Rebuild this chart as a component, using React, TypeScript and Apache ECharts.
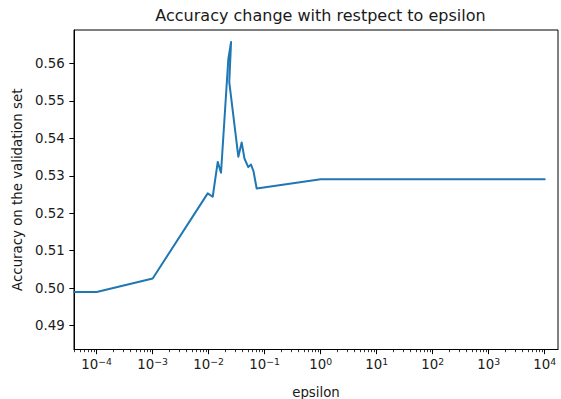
import React, { useEffect, useRef } from "react";
import * as echarts from "echarts";

// Data
const EPSILON = [
  1e-5, 1e-4, 1e-3, 0.0096, 0.0118, 0.0145, 0.0166, 0.0224, 0.0251, 0.0233,
  0.0338, 0.0388, 0.0435, 0.0509, 0.0569, 0.0631, 0.0719, 1, 10, 100, 1000, 10000,
];
const ACCURACY = [
  0.499, 0.499, 0.5026, 0.5253, 0.5244, 0.5337, 0.5308, 0.5611, 0.5657, 0.555,
  0.5351, 0.5389, 0.5346, 0.5323, 0.533, 0.5312, 0.5266, 0.5291, 0.5291, 0.5291,
  0.5291, 0.5291,
];

const X_TICKS = [1e-4, 1e-3, 1e-2, 1e-1, 1, 10, 100, 1000, 10000];
const Y_TICKS = [0.49, 0.5, 0.51, 0.52, 0.53, 0.54, 0.55, 0.56];
const MINOR_MULTIPLES = [2, 3, 4, 5, 6, 7, 8, 9];
const MINOR_DECADES = [1e-5, 1e-4, 1e-3, 1e-2, 1e-1, 1, 10, 100, 1000, 10000];

const X_MIN = Math.pow(10, -4.405);
const X_MAX = Math.pow(10, 4.237);
const Y_MIN = 0.48365;
const Y_MAX = 0.56889;

const FONT = "DejaVu Sans";
const TEXT = "#1a1a1a";

function supLabel(v: number) {
  const e = Math.round(Math.log10(v));
  const s = e < 0 ? "\u2212" + -e : String(e);
  return `{b|10}{s|${s}}`;
}

export default function App() {
  const ref = useRef<HTMLDivElement>(null);
  useEffect(() => {
    if (!ref.current) return;
    const chart = echarts.init(ref.current, undefined, { renderer: "svg" });
    const minor: number[] = [];
    MINOR_DECADES.forEach((d) =>
      MINOR_MULTIPLES.forEach((m) => {
        const v = d * m;
        if (v > X_MIN && v < X_MAX) minor.push(v);
      })
    );
    const lineData = EPSILON.map((e, i) => [e, ACCURACY[i]]);
    chart.setOption({
      animation: false,
      title: {
        text: "Accuracy change with restpect to epsilon",
        left: 315.5,
        top: 2,
        textAlign: "center",
        textStyle: { fontFamily: FONT, fontSize: 16, fontWeight: "normal", color: TEXT },
      },
      grid: {
        left: 74,
        right: 3,
        top: 30,
        bottom: 49.5,
        show: true,
        borderColor: "#000",
        borderWidth: 1,
        outerBoundsMode: "none",
        containLabel: false,
      },
      xAxis: [
        {
          type: "log",
          min: X_MIN,
          max: X_MAX,
          name: "epsilon",
          nameLocation: "middle",
          nameGap: 36,
          nameTextStyle: { fontFamily: FONT, fontSize: 13.33, color: TEXT },
          axisLine: { show: true, lineStyle: { color: "#000", width: 1 } },
          axisTick: {
            show: true,
            length: 4.67,
            lineStyle: { color: "#000", width: 1 },
            customValues: X_TICKS,
          },
          axisLabel: {
            customValues: X_TICKS,
            margin: 7,
            formatter: (v: number) => supLabel(v),
            rich: {
              b: { fontFamily: FONT, fontSize: 13.33, color: TEXT, lineHeight: 16 },
              s: {
                fontFamily: FONT,
                fontSize: 9.3,
                color: TEXT,
                lineHeight: 10,
                verticalAlign: "top",
              },
            },
          },
          splitLine: { show: false },
          minorTick: { show: false },
        },
        {
          type: "log",
          min: X_MIN,
          max: X_MAX,
          position: "bottom",
          axisLine: { show: false },
          axisTick: {
            show: true,
            length: 2.67,
            lineStyle: { color: "#000", width: 0.8 },
            customValues: minor,
          },
          axisLabel: { show: false },
          splitLine: { show: false },
        },
      ],
      yAxis: {
        type: "value",
        min: Y_MIN,
        max: Y_MAX,
        name: "Accuracy on the validation set",
        nameLocation: "middle",
        nameGap: 48,
        nameTextStyle: { fontFamily: FONT, fontSize: 13.33, color: TEXT },
        axisLine: { show: true, lineStyle: { color: "#000", width: 1 } },
        axisTick: {
          show: true,
          length: 4.67,
          lineStyle: { color: "#000", width: 1 },
          customValues: Y_TICKS,
        },
        axisLabel: {
          customValues: Y_TICKS,
          margin: 9.3,
          fontFamily: FONT,
          fontSize: 13.33,
          color: TEXT,
          formatter: (v: number) => v.toFixed(2),
        },
        splitLine: { show: false },
      },
      series: [
        {
          type: "line",
          data: lineData,
          xAxisIndex: 0,
          showSymbol: false,
          symbol: "none",
          clip: true,
          lineStyle: { color: "#1f77b4", width: 2, join: "round", cap: "round" },
        },
      ],
    });
    return () => chart.dispose();
  }, []);
  return (
    <div
      ref={ref}
      style={{ position: "fixed", left: 0, top: 0, width: 561, height: 399, background: "#fff" }}
    />
  );
}
